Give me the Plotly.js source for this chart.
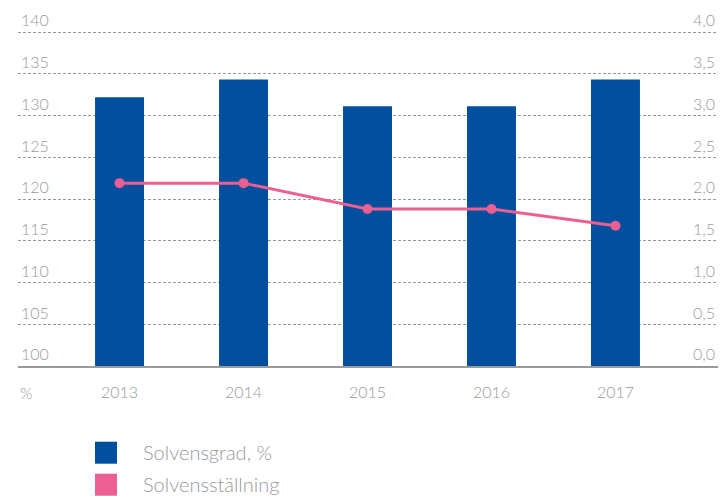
<!DOCTYPE html>
<html>
<head>
<meta charset="utf-8">
<script src="https://cdn.plot.ly/plotly-3.0.1.min.js"></script>
<style>html,body{margin:0;padding:0;background:#fff;}#chart{width:722px;height:496px;}</style>
</head>
<body>
<div id="chart"></div>
<script>
const years = ['2013', '2014', '2015', '2016', '2017'];
const solvensgrad = [132.2, 134.3, 131.1, 131.1, 134.3];
const solvensstallning = [2.19, 2.19, 1.88, 1.88, 1.68];
const leftTicks = [100, 105, 110, 115, 120, 125, 130, 135, 140];
const rightTicks = [0, 0.5, 1, 1.5, 2, 2.5, 3, 3.5, 4];
const rightTickLabels = ['0,0', '0,5', '1,0', '1,5', '2,0', '2,5', '3,0', '3,5', '4,0'];
const seriesNames = ['Solvensgrad, %', 'Solvensställning'];
const colors = ['#02509d', '#ec5f92'];

const FONT = 'Lato, "Open Sans", sans-serif';
const GREY = '#999999';
const PLOT_BOTTOM = 366, PLOT_H = 366;
const py = v => (PLOT_BOTTOM - v) / PLOT_H;
const tickFont = {family: FONT, size: 16, color: GREY, weight: 300};

const traces = [
  {
    type: 'bar', x: years, y: solvensgrad, name: seriesNames[0],
    marker: {color: colors[0]}, yaxis: 'y', showlegend: false
  },
  {
    type: 'scatter', mode: 'lines+markers', x: years, y: solvensstallning, name: seriesNames[1],
    line: {color: colors[1], width: 3}, marker: {color: colors[1], size: 10},
    yaxis: 'y2', showlegend: false
  }
];

const shapes = [];
const annotations = [];
seriesNames.forEach((n, i) => {
  const top = 441.7 + i * 32;
  shapes.push({
    type: 'rect', xref: 'paper', yref: 'paper',
    x0: (95 - 18) / 700, x1: (117 - 18) / 700,
    y0: py(top), y1: py(top + 22),
    fillcolor: colors[i], line: {width: 0}
  });
  annotations.push({
    xref: 'paper', yref: 'paper', x: (141 - 18) / 700, y: py(top + 10),
    xanchor: 'left', yanchor: 'middle', showarrow: false, text: n,
    font: {family: FONT, size: 20, color: GREY, weight: 300}
  });
});
annotations.push({
  xref: 'paper', yref: 'paper', x: 0, y: py(392),
  xanchor: 'left', yanchor: 'middle', showarrow: false, text: '%',
  font: tickFont
});

const layout = {
  width: 722, height: 496,
  margin: {l: 18, r: 4, t: PLOT_BOTTOM - PLOT_H, b: 496 - PLOT_BOTTOM},
  paper_bgcolor: '#fff', plot_bgcolor: '#fff',
  font: {family: FONT, size: 16, color: GREY},
  bargap: 0.605,
  showlegend: false,
  xaxis: {
    type: 'category', range: [-0.819, 4.827], showgrid: false,
    showline: true, linecolor: '#9a9a9a', linewidth: 1.5,
    ticks: '', tickfont: tickFont, ticklabelstandoff: 11,
    fixedrange: true
  },
  yaxis: {
    range: [100, 100 + 40 * PLOT_H / 334], tickvals: leftTicks, ticktext: leftTicks.map(String),
    showgrid: true, gridcolor: '#9a9a9a', griddash: '3px,2px', gridwidth: 1,
    zeroline: false, showline: false, ticks: '',
    ticklabelposition: 'inside top',
    tickfont: tickFont
  },
  yaxis2: {
    overlaying: 'y', side: 'right', range: [0, 4 * PLOT_H / 334],
    tickvals: rightTicks, ticktext: rightTickLabels,
    showgrid: false, zeroline: false, showline: false, ticks: '',
    ticklabelposition: 'inside top',
    tickfont: tickFont
  },
  shapes: shapes,
  annotations: annotations
};

Plotly.newPlot('chart', traces, layout, {displayModeBar: false, staticPlot: true});
</script>
</body>
</html>
